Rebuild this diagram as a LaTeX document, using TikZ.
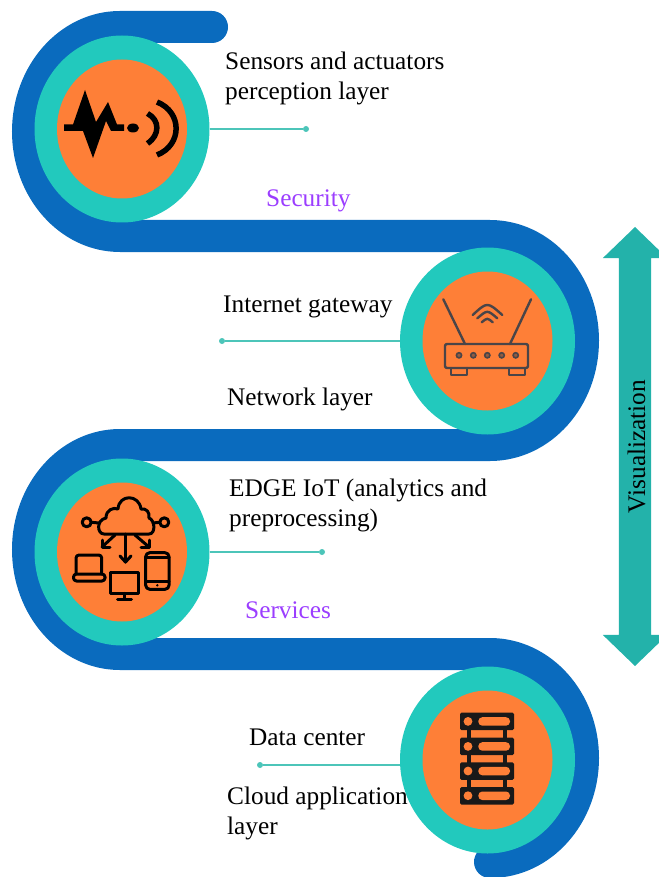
\documentclass[tikz,border=0pt]{standalone}
\usepackage{fontspec}
\setmainfont{Liberation Serif}
\usetikzlibrary{shapes.geometric,shapes.arrows}
\definecolor{bandblue}{HTML}{0A6BBE}
\definecolor{ringteal}{HTML}{22C9BD}
\definecolor{discorange}{HTML}{FE7F37}
\definecolor{leadteal}{HTML}{4CC5B9}
\definecolor{arrowteal}{HTML}{23B2AA}
\definecolor{labelpurple}{HTML}{9B3DFF}
\definecolor{routergray}{HTML}{4A4548}

\begin{document}
\begin{tikzpicture}[%
    x=1pt,
    y=-1pt,
    band/.style={draw=bandblue, line width=32pt, line cap=round},
    ring/.style={ellipse, fill=ringteal, inner sep=0pt, outer sep=0pt, minimum width=175pt, minimum height=187pt},
    disc/.style={ellipse, fill=discorange, inner sep=0pt, outer sep=0pt, minimum width=130pt, minimum height=139pt},
    tipdot/.style={circle, fill=leadteal, inner sep=0pt, minimum size=6pt},
    lead/.style={draw=leadteal, line width=2pt},
    lbl/.style={anchor=west, align=left, inner sep=0pt, font=\fontsize{25.3}{30}\selectfont},
    icon/.style={draw=black, line width=3pt, line join=round, line cap=round},
    router/.style={draw=routergray, line width=2.4pt, line join=round, line cap=round}
  ]
    \useasboundingbox (0,0) rectangle (658,877);

    % the blue band
    \draw[band] (212,27) -- (120,27)
        arc[start angle=90, end angle=270, x radius=92pt, y radius=104.5pt]
        -- (490,236)
        arc[start angle=90, end angle=-90, x radius=93pt, y radius=104.5pt]
        -- (120,445)
        arc[start angle=90, end angle=270, x radius=92pt, y radius=104.5pt]
        -- (490,654)
        arc[start angle=90, end angle=-90, x radius=93pt, y radius=104pt];

    % rings and discs
    \node[ring] (sensorring) at (122,129) {};
    \node[disc] (sensordisc) at (122,129) {};
    \node[ring] (gatewayring) at (487.5,341) {};
    \node[disc] (gatewaydisc) at (487.5,341) {};
    \node[ring] (edgering) at (122,552) {};
    \node[disc] (edgedisc) at (122,552) {};
    \node[ring] (dataring) at (487.5,760) {};
    \node[disc] (datadisc) at (487.5,760) {};

    % sensor icon
    \fill (64,124.5) -- (73,124.5) -- (85,90) -- (96,122) -- (108,102) -- (117,124.5) -- (124,124.5) -- (124,131) -- (111,131) -- (106,121) -- (93,158) -- (83,131) -- (64,131) -- cycle;
    \fill (133,128) ellipse [x radius=6pt, y radius=4.5pt];
    \draw[draw=black, line width=5.5pt] (147.5,113.5) .. controls (160,120) and (160,135) .. (147.5,143.5);
    \draw[draw=black, line width=5.5pt] (157,102) .. controls (182.5,112) and (182.5,145) .. (157,155);

    % router icon
    \draw[router, rounded corners=2pt] (445,344) rectangle (528,368);
    \draw[router] (450.7,368) -- (450.7,375) -- (466.7,375) -- (466.7,368);
    \draw[router] (509,368) -- (509,375) -- (525,375) -- (525,368);
    \draw[router] (443.3,299.3) -- (465,344);
    \draw[router] (531,299.3) -- (510,344);
    \foreach \px in {459,473.3,487.3,501.7,515.7}
        \draw[draw=routergray, line width=1.6pt, fill=routergray!60!discorange] (\px,355.3) circle (2.6pt);
    \draw[router] (472.7,315) .. controls (487.3,301.6) .. (502.3,315);
    \draw[router] (477.3,318.3) .. controls (487.3,309.7) .. (497.3,318.3);
    \draw[router] (481.7,322.3) .. controls (487.3,317.7) .. (492.7,322.3);

    % cloud icon
    \draw[icon] (104,534) .. controls (97,534) and (96,520) .. (106,518)
        .. controls (106,510) and (113,507) .. (118,509)
        .. controls (119,494) and (139,494) .. (141,509)
        .. controls (146,508) and (150,512) .. (149,518)
        .. controls (155,520) and (156,534) .. (149,534) -- cycle;
    \draw[icon] (86.7,522.3) circle (4.5pt);
    \draw[icon] (164.3,522.3) circle (4.5pt);
    \draw[icon] (91.5,522.3) -- (99,523);
    \draw[icon] (159.5,522.3) -- (153,523);
    \draw[icon] (125.5,534) -- (125.5,562);
    \draw[icon] (120,556) -- (125.5,562) -- (131,556);
    \draw[icon] (115,535) -- (102,547);
    \draw[icon] (102,540) -- (102,547) -- (110,547);
    \draw[icon] (135,535) -- (149,547);
    \draw[icon] (149,540) -- (149,547) -- (141,547);
    \draw[icon, rounded corners=3pt] (76,574) -- (76,555) -- (101.7,555) -- (101.7,574);
    \draw[icon, rounded corners=3pt] (73.5,574) rectangle (105,581);
    \draw[icon] (110,572.3) rectangle (138.3,593.3);
    \draw[icon] (124,593.3) -- (124,598.5);
    \draw[icon] (117.5,599) -- (131.5,599);
    \draw[icon, rounded corners=4pt] (145.7,552.7) rectangle (169,589.3);
    \draw[icon] (145.7,557.5) -- (169,557.5);
    \draw[icon] (145.7,581.7) -- (169,581.7);
    \fill (157.3,585.3) circle (1.3pt);

    % server icon
    \foreach \py in {712.7,737.7,762.3,787} {
        \fill[black!90, rounded corners=1.5pt] (460,\py) rectangle (514,\py+17.5);
        \fill[discorange] (468,\py+8.7) circle (4.4pt);
        \fill[discorange, rounded corners=4pt] (478.3,\py+4.5) rectangle (510,\py+13);
    }
    \foreach \py in {730,755,779.5} {
        \fill[black!90] (466.7,\py) rectangle (470.7,\py+8);
        \fill[black!90] (503.3,\py) rectangle (507.3,\py+8);
    }

    % visualization arrow
    \node[double arrow, rotate=90, fill=arrowteal, inner sep=0pt, minimum width=64pt, minimum height=439pt,
        double arrow head extend=16pt, double arrow tip angle=92, text height=26pt, text depth=6pt,
        font=\fontsize{25.3}{30}\selectfont] (visarrow) at (635,446.5) {Visualization};

    % leads
    \node[tipdot] (sensordot) at (306,129) {};
    \node[tipdot] (gatewaydot) at (222,341) {};
    \node[tipdot] (edgedot) at (322,552) {};
    \node[tipdot] (datadot) at (260,765) {};
    \draw[lead] (sensorring) -- (sensordot);
    \draw[lead] (gatewaydot) -- (gatewayring);
    \draw[lead] (edgering) -- (edgedot);
    \draw[lead] (datadot) -- (datadot -| dataring.west);

    % labels
    \node[lbl] (sensorlabel) at (225,78) {Sensors and actuators\\perception layer};
    \node[lbl, text=labelpurple] (securitylabel) at (266,201) {Security};
    \node[lbl] (gatewaylabel) at (223,307) {Internet gateway};
    \node[lbl] (networklabel) at (227,399) {Network layer};
    \node[lbl] (edgelabel) at (229,505) {EDGE IoT (analytics and\\preprocessing)};
    \node[lbl, text=labelpurple] (serviceslabel) at (245,610) {Services};
    \node[lbl] (datalabel) at (249,737) {Data center};
    \node[lbl] (cloudlabel) at (227,813) {Cloud application\\layer};
  \end{tikzpicture}
\end{document}
